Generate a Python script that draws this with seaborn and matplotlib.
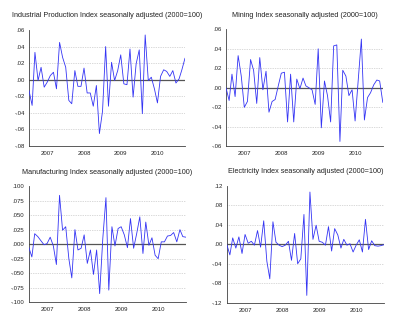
import numpy as np
import pandas as pd
import matplotlib
matplotlib.use("Agg")
import matplotlib.pyplot as plt
from matplotlib.ticker import FixedLocator, FuncFormatter
import seaborn as sns

# Monthly growth rates, 2007M01 - 2011M04
months = pd.date_range("2007-01-01", periods=52, freq="MS")

industrial = [-0.013, -0.031, 0.033, -0.001, 0.015, -0.009, -0.003, 0.005, 0.009, -0.011,
              0.045, 0.027, 0.015, -0.025, -0.029, 0.011, -0.008, -0.008, 0.014, -0.016,
              -0.016, -0.032, -0.007, -0.065, -0.038, 0.040, -0.032, 0.021, -0.001, 0.011,
              0.030, -0.005, -0.006, 0.037, -0.021, 0.019, 0.036, -0.041, 0.054, -0.001,
              0.003, -0.011, -0.028, 0.004, 0.012, 0.010, 0.004, 0.011, -0.004, 0.001,
              0.012, 0.026]

mining = [0.000, -0.013, 0.014, -0.009, 0.033, 0.012, -0.020, -0.014, 0.029, 0.018,
          -0.016, 0.031, -0.002, 0.017, -0.025, -0.014, -0.012, 0.002, 0.015, 0.016,
          -0.035, 0.014, -0.035, 0.009, -0.001, 0.010, 0.002, 0.000, -0.002, -0.017,
          0.040, -0.041, 0.007, -0.008, -0.035, 0.043, 0.044, -0.055, 0.018, 0.012,
          -0.008, -0.002, -0.034, 0.008, 0.050, -0.033, -0.010, -0.005, 0.003, 0.008,
          0.007, -0.015]

manufacturing = [-0.005, -0.022, 0.018, 0.013, 0.006, -0.001, 0.001, 0.012, -0.003, -0.035,
                 0.084, 0.024, 0.030, -0.025, -0.058, 0.025, -0.010, -0.007, 0.016, -0.033,
                 -0.010, -0.052, -0.010, -0.085, 0.010, 0.080, -0.079, 0.030, -0.003, 0.027,
                 0.030, 0.016, -0.006, 0.044, -0.007, 0.018, 0.047, -0.016, 0.038, -0.002,
                 0.011, -0.019, -0.025, 0.004, 0.004, 0.014, 0.015, 0.020, 0.004, 0.025,
                 0.013, 0.012]

electricity = [0.000, -0.022, 0.013, -0.008, 0.015, -0.019, 0.020, 0.002, 0.006, -0.002,
               0.028, -0.006, 0.048, -0.035, -0.071, 0.046, 0.004, -0.002, -0.005, -0.002,
               0.006, -0.033, 0.022, -0.040, -0.030, 0.061, -0.105, 0.107, 0.010, 0.039,
               0.006, 0.004, -0.002, 0.036, -0.014, 0.032, 0.019, -0.008, 0.010, -0.002,
               0.001, -0.016, -0.002, 0.009, -0.016, 0.051, -0.011, 0.007, -0.003, -0.004,
               -0.003, -0.001]

titles = ["Industrial Production Index seasonally adjusted (2000=100)",
          "Mining Index seasonally adjusted (2000=100)",
          "Manufacturing Index seasonally adjusted (2000=100)",
          "Electricity Index seasonally adjusted (2000=100)"]

year_labels = ["2007", "2008", "2009", "2010"]

y_ticks = [
    [0.06, 0.04, 0.02, 0.00, -0.02, -0.04, -0.06, -0.08],
    [0.06, 0.04, 0.02, 0.00, -0.02, -0.04, -0.06],
    [0.100, 0.075, 0.050, 0.025, 0.000, -0.025, -0.050, -0.075, -0.100],
    [0.12, 0.08, 0.04, 0.00, -0.04, -0.08, -0.12],
]
y_decimals = [2, 2, 3, 2]

series = [industrial, mining, manufacturing, electricity]

# axes rectangles in figure fractions [left, bottom, width, height]
rects = [
    [0.0725, 0.5508, 0.390, 0.3569],
    [0.5650, 0.5498, 0.392, 0.3600],
    [0.0718, 0.0698, 0.393, 0.3578],
    [0.5668, 0.0686, 0.393, 0.3600],
]

sns.set_style("white")
plt.rcParams["font.family"] = ["Liberation Sans", "DejaVu Sans"]

fig = plt.figure(figsize=(4.0, 3.25), dpi=100)
fig.patch.set_facecolor("white")

axis_color = "#404040"


def fmt_factory(dec):
    def fmt(v, pos):
        s = f"{v:.{dec}f}"
        s = s.replace("0.", ".", 1)
        return s
    return fmt


year_starts = pd.to_datetime(["2007-01-01", "2008-01-01", "2009-01-01", "2010-01-01", "2011-01-01"])
year_mids = pd.to_datetime(["2007-07-01", "2008-07-01", "2009-07-01", "2010-07-01"])

for k in range(4):
    ax = fig.add_axes(rects[k])
    df = pd.DataFrame({"month": months, "value": series[k]})
    ticks = y_ticks[k]
    ymin, ymax = min(ticks), max(ticks)

    # dotted reference lines at interior ticks, solid line at zero
    for t in ticks:
        if t in (ymin, ymax):
            continue
        if abs(t) < 1e-12:
            ax.axhline(0, color="#555555", lw=0.9, zorder=1)
        else:
            ax.axhline(t, color="#b4b4b4", lw=0.5, ls=(0, (1, 1.5)), zorder=1)

    sns.lineplot(data=df, x="month", y="value", ax=ax, color="#3434f4",
                 lw=0.6, zorder=3, legend=False)

    ax.set_xlim(months[0], months[-1])
    ax.set_ylim(ymin, ymax)
    ax.set_xlabel("")
    ax.set_ylabel("")

    ax.yaxis.set_major_locator(FixedLocator(ticks))
    ax.yaxis.set_major_formatter(FuncFormatter(fmt_factory(y_decimals[k])))

    ax.set_xticks(year_starts[year_starts <= months[-1]])
    ax.set_xticklabels([])
    ax.set_xticks(year_mids, minor=True)
    ax.set_xticklabels(year_labels, minor=True)

    ax.tick_params(axis="y", which="major", direction="out", length=2, width=0.5,
                   pad=1, labelsize=4.3, colors=axis_color, labelcolor="#222222")
    ax.tick_params(axis="x", which="major", direction="inout", length=3, width=0.5,
                   colors=axis_color)
    ax.tick_params(axis="x", which="minor", length=0, pad=3.5, labelsize=4.3,
                   labelcolor="#222222")

    for side in ("top", "right"):
        ax.spines[side].set_visible(False)
    for side in ("left", "bottom"):
        ax.spines[side].set_color(axis_color)
        ax.spines[side].set_linewidth(0.6)

    ax.set_title(titles[k], fontsize=5.2, color="#222222", pad=9)

fig.savefig("out.png", dpi=100, facecolor="white")
